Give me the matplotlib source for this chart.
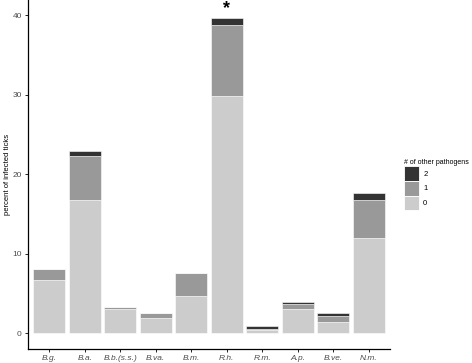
import matplotlib
matplotlib.use("Agg")
import matplotlib.pyplot as plt
from matplotlib.patches import Patch
import numpy as np

plt.rcParams['font.family'] = ['Liberation Sans', 'DejaVu Sans']

categories = ["B.g.", "B.a.", "B.b.(s.s.)", "B.va.", "B.m.", "R.h.", "R.m.", "A.p.", "B.ve.", "N.m."]
zero_other = [6.7, 16.8, 3.0, 1.9, 4.7, 29.85, 0.45, 3.0, 1.38, 12.0]
one_other = [1.4, 5.5, 0.35, 0.6, 2.85, 8.95, 0.05, 0.65, 0.8, 4.7]
two_other = [0.0, 0.6, 0.0, 0.0, 0.0, 0.86, 0.35, 0.3, 0.32, 0.95]
levels = ["0", "1", "2"]
colors = {"0": "#cccccc", "1": "#999999", "2": "#333333"}

fig = plt.figure(figsize=(4.72, 3.63), dpi=100)
ax = fig.add_axes([28/472, 14/363, (390-28)/472, 349/363])

x = np.arange(1, len(categories) + 1)
bottom = np.zeros(len(categories))
for lvl, vals in zip(levels, [zero_other, one_other, two_other]):
    v = np.array(vals)
    ax.bar(x, v, width=0.9, bottom=bottom, color=colors[lvl], edgecolor="white", linewidth=0.4)
    bottom += v

total = bottom
ri = categories.index("R.h.")
ax.text(x[ri], total[ri] + 0.1, "*", ha="center", va="bottom", fontsize=13, fontweight="bold", color="black")

ax.set_xlim(0.4, 10.6)
ax.set_ylim(-1.98, 41.9)
ax.set_xticks(x)
ax.set_xticklabels(categories, fontstyle="italic", fontsize=6, color="#4d4d4d")
ax.set_yticks([0, 10, 20, 30, 40])
ax.tick_params(axis="y", labelsize=6, labelcolor="#4d4d4d", length=2.5, width=0.6, pad=2)
ax.tick_params(axis="x", length=2.5, width=0.6, pad=2)
for s in ["top", "right"]:
    ax.spines[s].set_visible(False)
for s in ["left", "bottom"]:
    ax.spines[s].set_linewidth(0.9)
ax.set_ylabel("percent of infected ticks", fontsize=5.5)
ax.yaxis.set_label_coords(-0.048, 0.5)

handles = [Patch(facecolor=colors[l], edgecolor="white", linewidth=0.6, label=l) for l in ["2", "1", "0"]]
leg = fig.legend(handles=handles, title="# of other pathogens", loc="upper left",
                 bbox_to_anchor=(404/472, 1 - 159/363), frameon=False, fontsize=5.5,
                 title_fontsize=5, handlelength=2.0, handleheight=2.6, labelspacing=0.0,
                 handletextpad=0.5, borderaxespad=0, borderpad=0)
leg._legend_box.align = "left"

fig.savefig("out.png", dpi=100)
